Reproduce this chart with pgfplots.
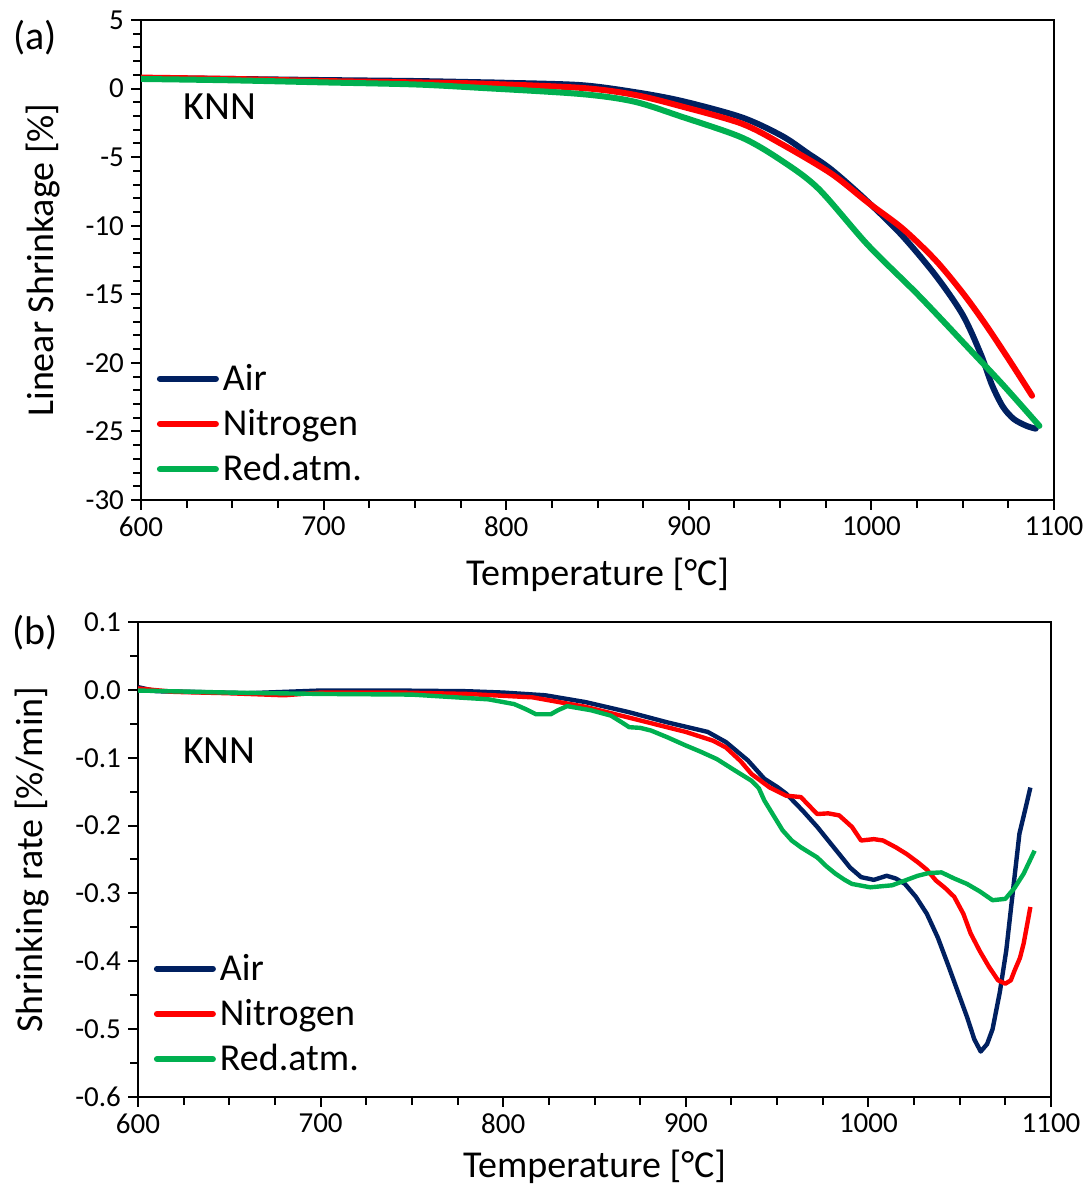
\documentclass[border=0pt]{standalone}
\usepackage{fontspec}
\setmainfont{Carlito}
\usepackage{pgfplots}
\pgfplotsset{compat=1.18}
\definecolor{cair}{HTML}{002060}
\definecolor{cnit}{HTML}{FF0000}
\definecolor{cred}{HTML}{00B050}

\pgfplotsset{
  knn/.style={
    scale only axis, width=456.5pt,
    xmin=600, xmax=1100, xtick={600,700,...,1100}, minor x tick num=3,
    xticklabel style={/pgf/number format/set thousands separator={}},
    tick pos=left, tick align=outside,
    axis line style={line width=1pt},
    tick style={black, line width=1pt},
    major tick length=5pt, minor tick length=4pt,
    tick label style={font=\fontsize{14.5}{16}\selectfont},
    /pgf/number format/assume math mode=true,
    label style={font=\fontsize{19}{22}\selectfont},
    xlabel={Temperature [°C]},
    legend cell align=left,
    legend style={draw=none, fill=none, font=\fontsize{19}{22}\selectfont,
      row sep=4pt, inner sep=0pt},
    legend image code/.code={\draw[#1, line width=3pt, line cap=round] (0pt,0pt) -- (28pt,0pt);},
  }
}

\begin{document}
\begin{tikzpicture}
% (a) linear shrinkage
\begin{axis}[knn,
  at={(70.5pt,343.5pt)}, anchor=south west, height=240pt,
  ymin=-30, ymax=5, ytick={-30,-25,...,5}, minor y tick num=4,
  ylabel={Linear Shrinkage [\%]},
  xlabel style={at={(axis description cs:0.5,-0.156)}, anchor=center},
  ylabel style={at={(axis description cs:-0.107,0.5)}, anchor=center},
  legend style={at={(axis description cs:0.017,0.292)}, anchor=north west},
]
\addplot[cair, line width=3pt, line cap=round, smooth, tension=0.5] coordinates {
(600,0.75) (650,0.7) (700,0.62) (750,0.55) (786,0.46) (800,0.42) (841,0.25)
(870,-0.25) (896,-0.9) (929,-2.1) (951,-3.45) (965,-4.7) (978,-5.9) (996,-8.0)
(1016,-10.6) (1035,-13.6) (1050,-16.5) (1060,-19.4) (1066,-21.6) (1072,-23.2)
(1078,-24.1) (1085,-24.6) (1090,-24.8)};
\addlegendentry{Air}
\addplot[cnit, line width=3pt, line cap=round, smooth, tension=0.5] coordinates {
(600,0.8) (650,0.7) (700,0.55) (750,0.45) (786,0.36) (841,0.05) (870,-0.45)
(896,-1.3) (929,-2.56) (951,-4.06) (978,-6.2) (998,-8.3) (1017,-10.2)
(1035,-12.5) (1050,-14.9) (1062,-17.1) (1075,-19.7) (1088,-22.4)};
\addlegendentry{Nitrogen}
\addplot[cred, line width=3pt, line cap=round, smooth, tension=0.5] coordinates {
(600,0.7) (650,0.6) (700,0.45) (750,0.3) (786,0.05) (841,-0.4) (870,-0.95)
(896,-2.05) (929,-3.57) (951,-5.27) (971,-7.3) (998,-11.4) (1026,-15.1)
(1053,-18.9) (1072,-21.6) (1092,-24.6)};
\addlegendentry{Red.atm.}
\node[font=\fontsize{20}{24}\selectfont] at (axis description cs:0.0865,0.819) {KNN};
\end{axis}

% (b) shrinking rate
\begin{axis}[knn,
  at={(69pt,45pt)}, anchor=south west, height=237.5pt,
  ymin=-0.6, ymax=0.1, ytick={-0.6,-0.5,...,0.1}, minor y tick num=1,
  yticklabel style={/pgf/number format/.cd, fixed, fixed zerofill, precision=1},
  ylabel={Shrinking rate [\%/min]},
  xlabel style={at={(axis description cs:0.5,-0.147)}, anchor=center},
  ylabel style={at={(axis description cs:-0.116,0.5)}, anchor=center},
  legend style={at={(axis description cs:0.017,0.31)}, anchor=north west},
]
\addplot[cair, line width=2.2pt, line join=round] coordinates {
(600,0.004) (610,-0.002) (630,-0.003) (660,-0.005) (700,-0.001) (740,-0.001)
(780,-0.002) (800,-0.004) (823,-0.008) (845,-0.018) (869,-0.033) (890,-0.048)
(912,-0.062) (922,-0.077) (934,-0.104) (943,-0.131) (950,-0.143) (955,-0.153)
(964,-0.178) (972,-0.202) (978,-0.222) (984,-0.242) (990,-0.262) (996,-0.276)
(1003,-0.280) (1010,-0.274) (1015,-0.278) (1020,-0.286) (1026,-0.305)
(1032,-0.330) (1038,-0.365) (1044,-0.408) (1049,-0.445) (1054,-0.482)
(1058,-0.515) (1061.5,-0.533) (1065,-0.522) (1068,-0.500) (1072,-0.445)
(1075.5,-0.384) (1079,-0.300) (1082.7,-0.212) (1086,-0.175) (1088.7,-0.144)};
\addlegendentry{Air}
\addplot[cnit, line width=2.2pt, line join=round] coordinates {
(600,0.002) (620,-0.003) (650,-0.005) (680,-0.008) (700,-0.004) (744,-0.004)
(780,-0.006) (816,-0.011) (845,-0.025) (869,-0.041) (900,-0.062) (915,-0.075)
(922,-0.085) (930,-0.105) (936,-0.124) (946,-0.144) (955,-0.156) (963,-0.158)
(968,-0.172) (972,-0.183) (978,-0.182) (984,-0.185) (991,-0.202) (996,-0.222)
(1003,-0.220) (1008,-0.222) (1015,-0.232) (1021,-0.242) (1027,-0.254)
(1032,-0.265) (1037,-0.281) (1042,-0.292) (1047,-0.305) (1052,-0.330)
(1056,-0.359) (1061,-0.385) (1066,-0.408) (1071,-0.428) (1075,-0.433)
(1078,-0.428) (1080,-0.414) (1083,-0.395) (1085,-0.374) (1087,-0.345)
(1088.7,-0.320)};
\addlegendentry{Nitrogen}
\addplot[cred, line width=2.2pt, line join=round] coordinates {
(600,-0.001) (650,-0.004) (700,-0.006) (750,-0.007) (792,-0.014) (806,-0.021)
(812,-0.028) (818,-0.036) (826,-0.036) (830,-0.030) (835,-0.024) (848,-0.030)
(859,-0.038) (865,-0.048) (869,-0.055) (875,-0.056) (881,-0.060) (890,-0.070)
(900,-0.082) (908,-0.091) (917,-0.102) (927,-0.119) (936,-0.134) (940,-0.145)
(943,-0.163) (948,-0.185) (953,-0.207) (958,-0.222) (963,-0.232) (972,-0.247)
(977,-0.260) (982,-0.271) (987,-0.280) (991,-0.286) (1001,-0.291)
(1013,-0.288) (1020,-0.281) (1027,-0.274) (1033,-0.270) (1040,-0.269)
(1047,-0.278) (1054,-0.286) (1061,-0.297) (1068,-0.310) (1075,-0.308)
(1080,-0.292) (1085,-0.271) (1091,-0.237)};
\addlegendentry{Red.atm.}
\node[font=\fontsize{20}{24}\selectfont] at (axis description cs:0.089,0.73) {KNN};
\end{axis}

\node[font=\fontsize{20}{24}\selectfont] at (17.5pt,574.5pt) {(a)};
\node[font=\fontsize{20}{24}\selectfont] at (17.5pt,277pt) {(b)};
\pgfresetboundingbox
\path[use as bounding box] (0pt,0pt) rectangle (545pt,593.5pt);
\end{tikzpicture}
\end{document}
